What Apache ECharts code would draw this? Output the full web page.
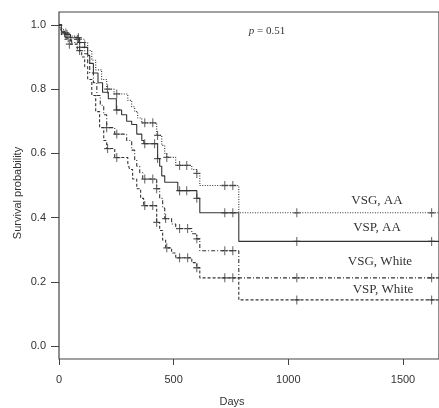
<!DOCTYPE html>
<html>
<head>
<meta charset="utf-8">
<script src="https://cdn.jsdelivr.net/npm/echarts@6/dist/echarts.min.js"></script>
<style>
  html, body { margin: 0; padding: 0; background: #fff; }
  #survival { width: 439px; height: 408px; }
</style>
</head>
<body>
<div id="survival"></div>
<script>
// tick labels
var xTicks = [0, 500, 1000, 1500];
var yTicks = [0, 0.2, 0.4, 0.6, 0.8, 1.0];

// step points [day, survival after that day]
var vsgAA = [[0, 1], [7, 0.985], [20, 0.975], [45, 0.965], [75, 0.955], [112, 0.945], [125, 0.92], [143, 0.89],
    [160, 0.86], [186, 0.83], [208, 0.80], [240, 0.785], [300, 0.765], [317, 0.745], [330, 0.73], [343, 0.71],
    [361, 0.695], [426, 0.656], [448, 0.625], [461, 0.60], [470, 0.5875], [509, 0.5625], [579, 0.55],
    [601, 0.5375], [614, 0.50], [784, 0.415], [1657, 0.415]];
var vspAA = [[0, 1], [10, 0.98], [25, 0.97], [50, 0.96], [90, 0.945], [112, 0.93], [125, 0.905], [134, 0.88],
    [150, 0.85], [170, 0.82], [190, 0.79], [215, 0.77], [250, 0.735], [273, 0.72], [295, 0.70], [317, 0.69],
    [339, 0.66], [361, 0.64], [370, 0.63], [430, 0.584], [439, 0.56], [448, 0.53], [461, 0.51], [518, 0.484],
    [601, 0.46], [614, 0.415], [784, 0.326], [1657, 0.326]];
var vsgWhite = [[0, 1], [12, 0.975], [30, 0.96], [55, 0.945], [90, 0.93], [112, 0.91], [125, 0.88], [134, 0.85],
    [150, 0.82], [165, 0.78], [180, 0.75], [195, 0.72], [208, 0.68], [243, 0.66], [295, 0.64], [317, 0.61],
    [330, 0.58], [339, 0.56], [352, 0.54], [365, 0.52], [426, 0.49], [439, 0.46], [452, 0.43], [461, 0.397],
    [491, 0.38], [509, 0.366], [579, 0.35], [601, 0.334], [614, 0.297], [784, 0.2125], [1657, 0.2125]];
var vspWhite = [[0, 1], [10, 0.97], [25, 0.955], [50, 0.94], [80, 0.92], [99, 0.90], [112, 0.87], [125, 0.83],
    [143, 0.78], [160, 0.73], [177, 0.68], [195, 0.64], [208, 0.615], [243, 0.587], [300, 0.57], [308, 0.55],
    [321, 0.52], [339, 0.49], [356, 0.46], [369, 0.4375], [426, 0.385], [439, 0.36], [452, 0.33], [465, 0.306],
    [491, 0.29], [509, 0.275], [579, 0.26], [601, 0.244], [614, 0.2125], [784, 0.144], [1657, 0.144]];

// censoring marks
var vsgAACens = [[30, 0.975], [80, 0.955], [212, 0.80], [252, 0.785], [374, 0.695], [409, 0.695], [430, 0.656],
    [470, 0.5875], [526, 0.5625], [557, 0.5625], [601, 0.5375], [723, 0.5], [758, 0.5], [1037, 0.415], [1625, 0.415]];
var vspAACens = [[35, 0.97], [85, 0.96], [252, 0.735], [374, 0.63], [417, 0.63], [430, 0.584], [526, 0.484],
    [557, 0.484], [601, 0.46], [723, 0.415], [758, 0.415], [1037, 0.326], [1625, 0.326]];
var vsgWhiteCens = [[40, 0.96], [90, 0.93], [208, 0.68], [252, 0.66], [374, 0.52], [409, 0.52], [426, 0.49],
    [465, 0.397], [526, 0.366], [561, 0.366], [601, 0.334], [723, 0.297], [758, 0.297], [1037, 0.2125], [1625, 0.2125]];
var vspWhiteCens = [[45, 0.94], [90, 0.92], [212, 0.615], [252, 0.587], [374, 0.4375], [409, 0.4375], [426, 0.385],
    [470, 0.306], [526, 0.275], [561, 0.275], [601, 0.244], [723, 0.2125], [758, 0.2125], [1037, 0.144], [1625, 0.144]];

var ink = '#333';
var plusMark = 'path://M0,4.3H10V5.7H0Z M4.3,0H5.7V10H4.3Z';
var serif = '"Liberation Serif", "DejaVu Serif", serif';
var sans = '"Liberation Sans", Arial, sans-serif';

function curve(name, data, dash) {
    return {
        name: name,
        type: 'line',
        step: 'end',
        data: data,
        symbol: 'none',
        silent: true,
        lineStyle: { color: ink, width: 1.1, type: dash },
        z: 2
    };
}

function marks(name, data) {
    return {
        name: name,
        type: 'scatter',
        data: data,
        symbol: plusMark,
        symbolSize: [7, 9],
        itemStyle: { color: ink },
        silent: true,
        z: 3
    };
}

var survivalChart = echarts.init(document.getElementById('survival'));

var option = {
    animation: false,
    backgroundColor: '#fff',
    grid: {
        left: 59,
        right: 0,
        top: 12,
        bottom: 49,
        show: true,
        borderColor: '#444',
        borderWidth: 1.2
    },
    xAxis: {
        type: 'value',
        min: 0,
        max: 1657,
        axisLine: { show: false, onZero: false },
        splitLine: { show: false },
        axisTick: { length: 6, lineStyle: { color: '#444' }, customValues: xTicks },
        axisLabel: {
            color: ink, fontFamily: sans, fontSize: 11, margin: 15,
            customValues: xTicks,
            formatter: function (v) { return String(v); }
        }
    },
    yAxis: {
        type: 'value',
        min: -0.04,
        max: 1.04,
        axisLine: { show: false, onZero: false },
        splitLine: { show: false },
        axisTick: { length: 8, lineStyle: { color: '#444' }, customValues: yTicks },
        axisLabel: {
            color: ink, fontFamily: sans, fontSize: 11, margin: 13,
            customValues: yTicks,
            formatter: function (v) { return v.toFixed(1); }
        }
    },
    graphic: [
        { type: 'text', x: 18, y: 193, rotation: Math.PI / 2,
          style: { text: 'Survival probability', fill: ink, font: '11px ' + sans, align: 'center', verticalAlign: 'middle' } },
        { type: 'text', x: 232, y: 402,
          style: { text: 'Days', fill: ink, font: '11px ' + sans, align: 'center', verticalAlign: 'middle' } },
        { type: 'text', x: 267, y: 31,
          style: { text: '{i|p} = 0.51', fill: ink, font: '11px ' + serif, align: 'center', verticalAlign: 'middle',
                   rich: { i: { fontStyle: 'italic', fontFamily: serif, fontSize: 11, fill: ink } } } },
        { type: 'text', x: 377, y: 201,
          style: { text: 'VSG, AA', fill: ink, font: '13px ' + serif, align: 'center', verticalAlign: 'middle' } },
        { type: 'text', x: 377, y: 228,
          style: { text: 'VSP, AA', fill: ink, font: '13px ' + serif, align: 'center', verticalAlign: 'middle' } },
        { type: 'text', x: 380, y: 262,
          style: { text: 'VSG, White', fill: ink, font: '13px ' + serif, align: 'center', verticalAlign: 'middle' } },
        { type: 'text', x: 383, y: 290,
          style: { text: 'VSP, White', fill: ink, font: '13px ' + serif, align: 'center', verticalAlign: 'middle' } }
    ],
    series: [
        curve('VSG, AA', vsgAA, [1, 1.5]),
        curve('VSP, AA', vspAA, 'solid'),
        curve('VSG, White', vsgWhite, [4, 2, 1, 2]),
        curve('VSP, White', vspWhite, [3, 2]),
        marks('VSG, AA +', vsgAACens),
        marks('VSP, AA +', vspAACens),
        marks('VSG, White +', vsgWhiteCens),
        marks('VSP, White +', vspWhiteCens)
    ]
};

survivalChart.setOption(option);
</script>
</body>
</html>
